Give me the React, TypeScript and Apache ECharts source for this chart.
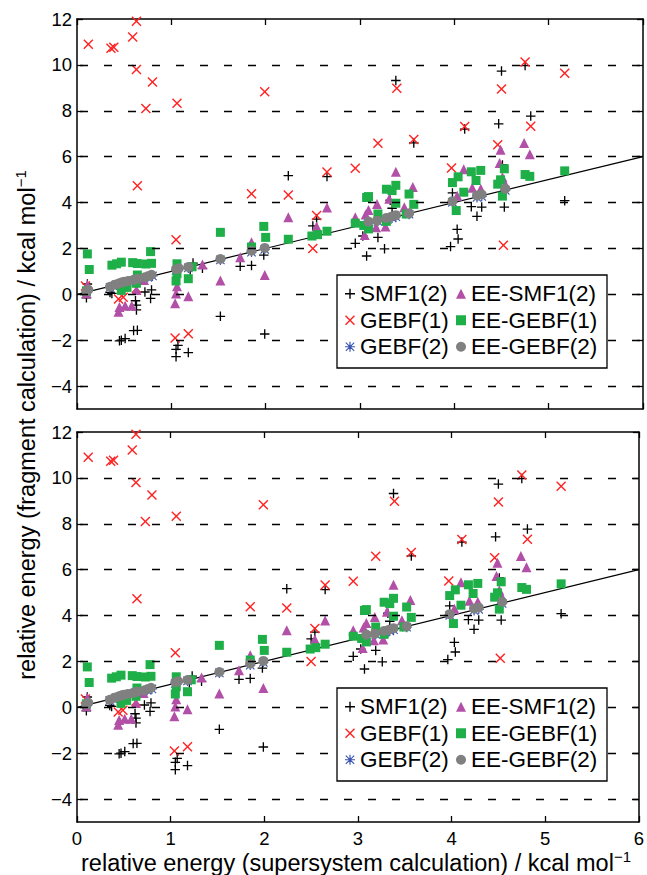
import React, { useEffect, useRef } from "react";
import * as echarts from "echarts";

// ---- data (x: supersystem, y: fragment), kcal/mol ----
const smf1_2: number[][] = [
  [0.10, -0.15], [0.11, 0.45], [0.35, 0.08], [0.37, 0.04], [0.45, -2.03], [0.47, -2.0], [0.51, -1.93],
  [0.60, -1.58], [0.64, -1.57], [0.62, -0.28], [0.63, -0.68], [0.63, -0.47], [0.72, 0.1], [0.79, 0.19],
  [0.78, -0.18], [1.05, -2.72], [1.05, -2.40], [1.07, -2.23], [1.18, -2.54], [1.20, 1.06], [1.23, 1.36],
  [1.33, 1.13], [1.52, -0.96], [1.73, 1.22], [1.85, 1.26], [1.98, 1.71], [1.99, -1.73], [2.24, 5.17],
  [2.50, 2.98], [2.54, 3.28], [2.65, 5.13], [2.95, 2.22], [3.03, 2.54], [3.07, 1.67], [3.19, 2.48],
  [3.26, 1.98], [3.34, 3.75], [3.32, 4.1], [3.38, 9.32], [3.57, 6.6], [3.96, 2.08], [3.98, 4.42],
  [4.03, 2.83], [4.04, 2.41], [4.11, 7.2], [4.18, 3.82], [4.24, 3.4], [4.29, 3.8], [4.47, 7.43],
  [4.50, 9.73], [4.51, 5.64], [4.53, 3.8], [4.75, 9.97], [4.81, 7.77], [5.17, 4.08],
];
const gebf1: number[][] = [
  [0.12, 10.9], [0.36, 10.72], [0.39, 10.77], [0.59, 11.22], [0.63, 11.9], [0.63, 9.8], [0.80, 9.25],
  [0.73, 8.1], [1.06, 8.33], [0.64, 4.73], [1.99, 8.83], [1.85, 4.38], [2.24, 4.33], [2.65, 5.33],
  [2.95, 5.49], [3.19, 6.58], [2.54, 3.44], [2.50, 2.0], [3.39, 8.98], [3.57, 6.75], [4.11, 7.31],
  [3.97, 5.5], [4.75, 10.13], [4.50, 8.95], [4.46, 6.52], [4.81, 7.33], [5.17, 9.64], [4.52, 2.14],
  [1.05, 2.38], [1.04, -1.9], [1.18, -1.72], [0.09, 0.36], [0.44, -0.2], [0.49, -0.13], [0.63, 0.26],
];
const gebf2: number[][] = [
  [0.10, 0.1], [0.35, 0.3], [0.42, 0.4], [0.48, 0.47], [0.53, 0.52], [0.60, 0.6], [0.64, 0.63],
  [0.75, 0.74], [0.80, 0.8], [1.05, 1.04], [1.18, 1.15], [1.52, 1.5], [1.85, 1.84], [1.99, 1.96],
  [3.09, 3.1], [3.19, 3.18], [3.29, 3.27], [3.34, 3.33], [3.38, 3.38], [3.52, 3.49], [3.98, 4.01],
  [4.24, 4.22], [4.29, 4.27], [4.54, 4.53],
];
const eeSmf1_2: number[][] = [
  [0.10, 0.05], [0.11, 0.42], [0.44, -0.76], [0.45, -0.55], [0.51, -0.5], [0.58, -0.5], [0.63, 0.19],
  [0.71, 0.62], [1.04, -0.39], [1.05, 0.04], [1.06, 0.35], [1.18, -0.08], [1.33, 1.3], [1.52, 0.6],
  [1.73, 1.62], [1.85, 2.27], [1.99, 0.84], [2.24, 3.36], [2.54, 2.95], [2.65, 3.78], [2.95, 3.36],
  [3.05, 2.58], [3.06, 3.48], [3.09, 3.67], [3.17, 2.92], [3.18, 3.94], [3.27, 2.95], [3.31, 4.16],
  [3.38, 5.34], [3.47, 3.79], [3.56, 4.68], [4.03, 4.3], [4.10, 5.45], [4.19, 4.64], [4.28, 4.6],
  [4.48, 5.72], [4.49, 6.3], [4.51, 5.1], [4.54, 4.8], [4.74, 6.6], [4.80, 6.1],
];
const eeGebf1: number[][] = [
  [0.10, 0.15], [0.11, 1.76], [0.13, 1.08], [0.37, 1.27], [0.42, 1.33], [0.47, 1.4], [0.47, 0.17],
  [0.53, 0.3], [0.59, 1.38], [0.64, 1.34], [0.64, 0.84], [0.63, 0.48], [0.73, 1.32], [0.78, 1.86],
  [0.79, 1.35], [1.05, 0.58], [1.06, 0.9], [1.06, 1.33], [1.18, 0.68], [1.22, 1.2], [1.52, 2.7],
  [1.85, 2.06], [1.98, 2.96], [2.0, 2.48], [2.24, 2.4], [2.49, 2.54], [2.55, 2.6], [2.65, 2.75],
  [2.95, 3.1], [3.04, 3.0], [3.07, 4.22], [3.09, 4.26], [3.09, 2.85], [3.19, 3.5], [3.28, 4.58],
  [3.28, 3.18], [3.34, 4.52], [3.38, 4.75], [3.38, 3.97], [3.49, 3.5], [3.52, 4.37], [3.57, 3.92],
  [3.98, 4.87], [4.02, 3.65], [4.04, 5.12], [4.10, 4.45], [4.18, 5.34], [4.23, 4.96], [4.28, 5.4],
  [4.46, 4.8], [4.49, 4.99], [4.51, 4.28], [4.53, 5.47], [4.75, 5.22], [4.80, 5.14], [5.17, 5.38],
];
const eeGebf2: number[][] = [
  [0.10, 0.12], [0.12, 0.2], [0.35, 0.33], [0.40, 0.42], [0.44, 0.47], [0.47, 0.51], [0.50, 0.55],
  [0.54, 0.58], [0.60, 0.63], [0.64, 0.68], [0.72, 0.74], [0.76, 0.8], [0.79, 0.85], [1.05, 1.09],
  [1.08, 1.13], [1.18, 1.19], [1.52, 1.54], [1.85, 1.9], [1.99, 2.02], [3.09, 3.17], [3.18, 3.21],
  [3.28, 3.33], [3.33, 3.38], [3.38, 3.45], [3.52, 3.53], [3.98, 4.06], [4.24, 4.31], [4.29, 4.35],
  [4.54, 4.6],
];
const diagLine: number[][] = [[0, 0], [6, 6]];
const yTickValues = [-4, -2, 0, 2, 4, 6, 8, 10, 12];
const yGridValues = [-4, -2, 0, 2, 4, 6, 8, 10];
const legendCol1 = ["SMF1(2)", "GEBF(1)", "GEBF(2)"];
const legendCol2 = ["EE-SMF1(2)", "EE-GEBF(1)", "EE-GEBF(2)"];

const FONT = "'Liberation Sans', Arial, Helvetica, sans-serif";

const PLUS = "path://M4.3,0H5.7V4.3H10V5.7H5.7V10H4.3V5.7H0V4.3H4.3Z";
const CROSS =
  "path://M0,1L1,0L5,4L9,0L10,1L6,5L10,9L9,10L5,6L1,10L0,9L4,5Z";
const STAR =
  "path://M4.4,0H5.6V4.4H10V5.6H5.6V10H4.4V5.6H0V4.4H4.4Z M1.2,0.4L5,4.2L8.8,0.4L9.6,1.2L5.8,5L9.6,8.8L8.8,9.6L5,5.8L1.2,9.6L0.4,8.8L4.2,5L0.4,1.2Z";

const panels = [
  { top: 19, showX: false },
  { top: 432, showX: true },
];
const GRID_LEFT = 77;
const GRID_W = 566;
const GRID_H = 390;

export default function App() {
  const ref = useRef<HTMLDivElement>(null);
  useEffect(() => {
    if (!ref.current) return;
    const chart = echarts.init(ref.current, null, { renderer: "svg" });
    const grids: any[] = [];
    const xAxes: any[] = [];
    const yAxes: any[] = [];
    const series: any[] = [];
    const legends: any[] = [];
    const graphics: any[] = [];
    const axisLine = { lineStyle: { color: "#000", width: 1.5 } };
    panels.forEach((p, i) => {
      grids.push({ left: GRID_LEFT, top: p.top, width: GRID_W, height: GRID_H });
      xAxes.push({
        type: "value", gridIndex: i, min: 0, max: 6, interval: 1, position: "bottom",
        axisLine: { ...axisLine, onZero: false },
        axisTick: { inside: true, length: 6, lineStyle: { color: "#000", width: 1.3 } },
        axisLabel: { show: p.showX, color: "#000", fontSize: 18.5, fontFamily: FONT, margin: 7 },
        splitLine: { show: false },
      });
      xAxes.push({
        type: "value", gridIndex: i, min: 0, max: 6, interval: 1, position: "top",
        axisLine: { ...axisLine, onZero: false },
        axisTick: { inside: true, length: 6, lineStyle: { color: "#000", width: 1.3 } },
        axisLabel: { show: false },
        splitLine: { show: false },
      });
      yAxes.push({
        type: "value", gridIndex: i, min: -5, max: 12, position: "left",
        axisLine: { ...axisLine, onZero: false },
        axisTick: { inside: true, length: 6, customValues: yTickValues, lineStyle: { color: "#000", width: 1.3 } },
        axisLabel: {
          color: "#000", fontSize: 18.5, fontFamily: FONT, margin: 5, customValues: yTickValues,
          formatter: (v: number) => String(v).replace("-", "\u2212"),
        },
        splitLine: { show: false },
      });
      yAxes.push({
        type: "value", gridIndex: i, min: -5, max: 12, position: "right",
        axisLine: { ...axisLine, onZero: false },
        axisTick: { inside: true, length: 6, customValues: yTickValues, lineStyle: { color: "#000", width: 1.3 } },
        axisLabel: { show: false },
        splitLine: { show: false },
      });
      const xi = i * 2;
      const yi = i * 2;
      series.push({
        type: "line", name: "y=x", xAxisIndex: xi, yAxisIndex: yi, data: diagLine,
        showSymbol: false, silent: true, lineStyle: { color: "#000", width: 1.2 },
        markLine: {
          silent: true, symbol: ["none", "none"], label: { show: false },
          lineStyle: { color: "#000", width: 1.3, type: [8, 16], dashOffset: 21 },
          emphasis: { disabled: true },
          data: yGridValues.map((v) => ({ yAxis: v })),
        },
        z: 1,
      });
      const sc = (name: string, data: number[][], symbol: string, size: number, color: string) => ({
        type: "scatter", name, xAxisIndex: xi, yAxisIndex: yi, data, symbol, symbolSize: size,
        itemStyle: { color, opacity: 1 }, silent: true,
      });
      series.push(sc("SMF1(2)", smf1_2, PLUS, 9.5, "#000000"));
      series.push(sc("GEBF(1)", gebf1, CROSS, 10, "#ff2222"));
      series.push(sc("GEBF(2)", gebf2, STAR, 10, "#3a55b4"));
      series.push(sc("EE-SMF1(2)", eeSmf1_2, "triangle", 10, "#b24fa6"));
      series.push(sc("EE-GEBF(1)", eeGebf1, "rect", 9, "#1faf48"));
      series.push(sc("EE-GEBF(2)", eeGebf2, "circle", 10, "#808080"));

      const boxTop = p.top + 256;
      graphics.push({
        type: "rect", z: 10, silent: true,
        shape: { x: 337, y: boxTop, width: 270, height: 93 },
        style: { fill: "#fff", stroke: "#000", lineWidth: 1.3 },
      });
      const legendBase = {
        orient: "vertical", top: boxTop + 5.5, itemWidth: 10, itemHeight: 10, itemGap: 0,
        selectedMode: false, padding: 0, z: 20,
        textStyle: { fontSize: 22.5, lineHeight: 26.5, fontFamily: FONT, color: "#000" },
      };
      legends.push({ ...legendBase, left: 345, data: legendCol1 });
      legends.push({ ...legendBase, left: 456, data: legendCol2 });
    });

    graphics.push({
      type: "text", x: 26, y: 425, rotation: Math.PI / 2, silent: true,
      style: {
        text: "{a|relative energy (fragment calculation) / kcal mol}{s|\u22121}",
        align: "center", verticalAlign: "middle", fill: "#000",
        rich: {
          a: { fontSize: 23.5, fontFamily: FONT, fill: "#000", lineHeight: 26, verticalAlign: "bottom" },
          s: { fontSize: 15, fontFamily: FONT, fill: "#000", verticalAlign: "top", lineHeight: 15 },
        },
      },
    });
    graphics.push({
      type: "text", x: 356, y: 862, silent: true,
      style: {
        text: "{a|relative energy (supersystem calculation) / kcal mol}{s|\u22121}",
        align: "center", verticalAlign: "middle", fill: "#000",
        rich: {
          a: { fontSize: 23.5, fontFamily: FONT, fill: "#000", lineHeight: 26, verticalAlign: "bottom" },
          s: { fontSize: 15, fontFamily: FONT, fill: "#000", verticalAlign: "top", lineHeight: 15 },
        },
      },
    });

    chart.setOption({
      animation: false,
      backgroundColor: "#fff",
      grid: grids,
      xAxis: xAxes,
      yAxis: yAxes,
      series,
      legend: legends,
      graphic: graphics,
    });
    return () => chart.dispose();
  }, []);
  return (
    <div
      ref={ref}
      style={{ position: "absolute", left: 0, top: 0, width: 647, height: 875, background: "#fff" }}
    />
  );
}
